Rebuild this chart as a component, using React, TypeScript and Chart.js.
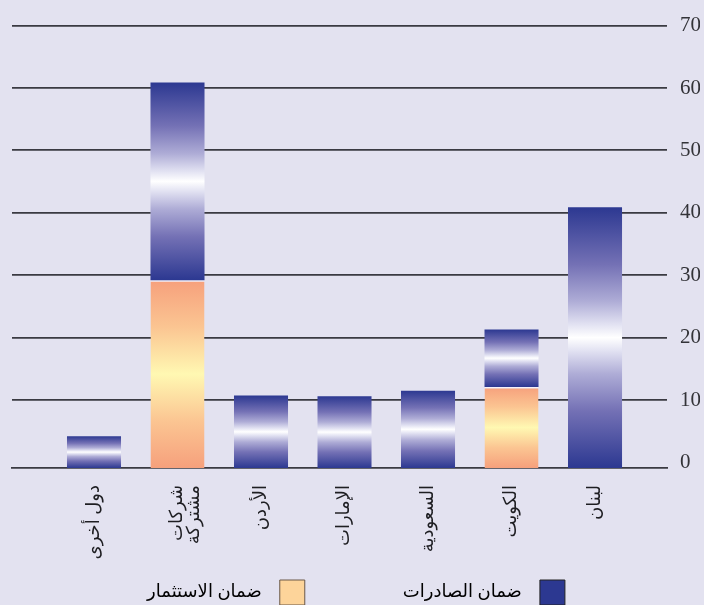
import React, { useEffect, useRef } from "react";
import { Chart, registerables } from "chart.js";

Chart.register(...registerables);

// ---- data ----
const CATEGORIES: (string | string[])[] = [
  "دول أخرى",
  ["شركات", "مشتركة"],
  "الأردن",
  "الإمارات",
  "السعودية",
  "الكويت",
  "لبنان",
];
const INVESTMENT_GUARANTEE = [0, 29.2, 0, 0, 0, 12.1, 0];
const EXPORT_GUARANTEE = [4.2, 31.7, 10.7, 10.6, 11.5, 9.2, 40.9];
const Y_TICKS = [0, 10, 20, 30, 40, 50, 60, 70];
const SERIES_LABELS = ["ضمان الصادرات", "ضمان الاستثمار"];
const AXIS_FLOOR = -0.9;

// ---- style ----
const BG = "#e3e2f0";
const GRID = "#3a3a42";
const NAVY = "#2c3891";
const FONT = "'Liberation Serif', 'DejaVu Sans', serif";

function blueGradient(g: CanvasGradient) {
  g.addColorStop(0, NAVY);
  g.addColorStop(0.22, "#7471b5");
  g.addColorStop(0.36, "#aeacd6");
  g.addColorStop(0.45, "#e2e2f2");
  g.addColorStop(0.5, "#ffffff");
  g.addColorStop(0.55, "#e2e2f2");
  g.addColorStop(0.64, "#aeacd6");
  g.addColorStop(0.78, "#7471b5");
  g.addColorStop(1, NAVY);
  return g;
}
function orangeGradient(g: CanvasGradient) {
  g.addColorStop(0, "#f6a07c");
  g.addColorStop(0.25, "#fbc592");
  g.addColorStop(0.5, "#fff8b2");
  g.addColorStop(0.75, "#fbc592");
  g.addColorStop(1, "#f6a07c");
  return g;
}

function gradientFill(kind: "blue" | "orange") {
  return (c: any) => {
    const chart = c.chart;
    const ys = chart.scales && chart.scales.y;
    const raw = c.raw;
    if (!chart.chartArea || !ys || !raw || !Array.isArray(raw.y)) {
      return kind === "blue" ? NAVY : "#fbc592";
    }
    const top = ys.getPixelForValue(Math.max(raw.y[0], raw.y[1]));
    const bot = ys.getPixelForValue(Math.min(raw.y[0], raw.y[1]));
    const g = chart.ctx.createLinearGradient(0, top, 0, bot);
    return kind === "blue" ? blueGradient(g) : orangeGradient(g);
  };
}

export default function App() {
  const ref = useRef<HTMLCanvasElement | null>(null);

  useEffect(() => {
    if (!ref.current) return;

    const investmentData = INVESTMENT_GUARANTEE.map((v, i) =>
      v > 0 ? { x: i, y: [AXIS_FLOOR, v] } : null
    ).filter(Boolean);
    const exportData = EXPORT_GUARANTEE.map((v, i) => {
      const base = INVESTMENT_GUARANTEE[i];
      return { x: i, y: [base > 0 ? base : AXIS_FLOOR, base + v] };
    });

    const spacer = {
      text: "",
      fillStyle: "rgba(0,0,0,0)",
      strokeStyle: "rgba(0,0,0,0)",
      lineWidth: 0,
      hidden: false,
    };

    const chart = new Chart(ref.current, {
      type: "bar",
      data: {
        datasets: [
          {
            label: SERIES_LABELS[0],
            data: exportData as any,
            backgroundColor: gradientFill("blue") as any,
            borderWidth: 0,
            grouped: false,
            order: 1,
          } as any,
          {
            label: SERIES_LABELS[1],
            data: investmentData as any,
            backgroundColor: gradientFill("orange") as any,
            borderColor: "#f4f2fb",
            borderWidth: { top: 1.5, left: 0, right: 0, bottom: 0 },
            borderSkipped: false,
            grouped: false,
            order: 2,
          } as any,
        ],
      },
      options: {
        responsive: false,
        animation: false,
        layout: { padding: { left: 12, right: 4, top: 25, bottom: -10 } },
        datasets: {
          bar: { categoryPercentage: 1, barPercentage: 0.647 } as any,
        },
        scales: {
          x: {
            type: "linear",
            offset: false,
            min: -0.982,
            max: 6.862,
            grid: { display: false, offset: false },
            border: { display: true, color: GRID, width: 1.8 },
            afterBuildTicks: (scale: any) => {
              scale.ticks = CATEGORIES.map((_, i) => ({ value: i }));
            },
            afterFit: (scale: any) => {
              scale.height = 102;
            },
            ticks: {
              autoSkip: false,
              maxRotation: 90,
              minRotation: 90,
              padding: 9,
              color: "#1e1e22",
              font: { family: FONT, size: 18, lineHeight: 0.95 },
              callback: (v: any) => CATEGORIES[Math.round(Number(v))] as any,
            },
          },
          y: {
            position: "right",
            min: AXIS_FLOOR,
            max: 70,
            grid: {
              drawTicks: false,
              lineWidth: 1.8,
              color: (c: any) =>
                c.tick && c.tick.value === 0 ? "rgba(0,0,0,0)" : GRID,
            },
            border: { display: false },
            afterBuildTicks: (scale: any) => {
              scale.ticks = Y_TICKS.map((v) => ({ value: v }));
            },
            afterFit: (scale: any) => {
              scale.width = 33;
            },
            ticks: {
              padding: 13,
              color: "#333338",
              font: { family: FONT, size: 21 },
            },
          },
        },
        plugins: {
          tooltip: { enabled: false },
          legend: {
            display: true,
            position: "bottom",
            rtl: true,
            textDirection: "rtl",
            labels: {
              boxWidth: 25,
              boxHeight: 25,
              padding: 10,
              color: "#1e1e22",
              font: { family: FONT, size: 18 },
              generateLabels: () =>
                [
                  {
                    text: "  " + SERIES_LABELS[0],
                    fillStyle: NAVY,
                    strokeStyle: "#222",
                    lineWidth: 1,
                    hidden: false,
                    datasetIndex: 0,
                  },
                  spacer,
                  spacer,
                  {
                    text: "  " + SERIES_LABELS[1],
                    fillStyle: "#fdd49a",
                    strokeStyle: "#6a5848",
                    lineWidth: 1,
                    hidden: false,
                    datasetIndex: 1,
                  },
                ] as any,
            },
          },
        },
      },
    } as any);

    return () => chart.destroy();
  }, []);

  return (
    <div
      style={{
        position: "fixed",
        left: 0,
        top: 0,
        width: 704,
        height: 605,
        background: BG,
        overflow: "hidden",
      }}
    >
      <canvas
        ref={ref}
        width={704}
        height={605}
        style={{ display: "block", width: 704, height: 605 }}
      />
    </div>
  );
}
